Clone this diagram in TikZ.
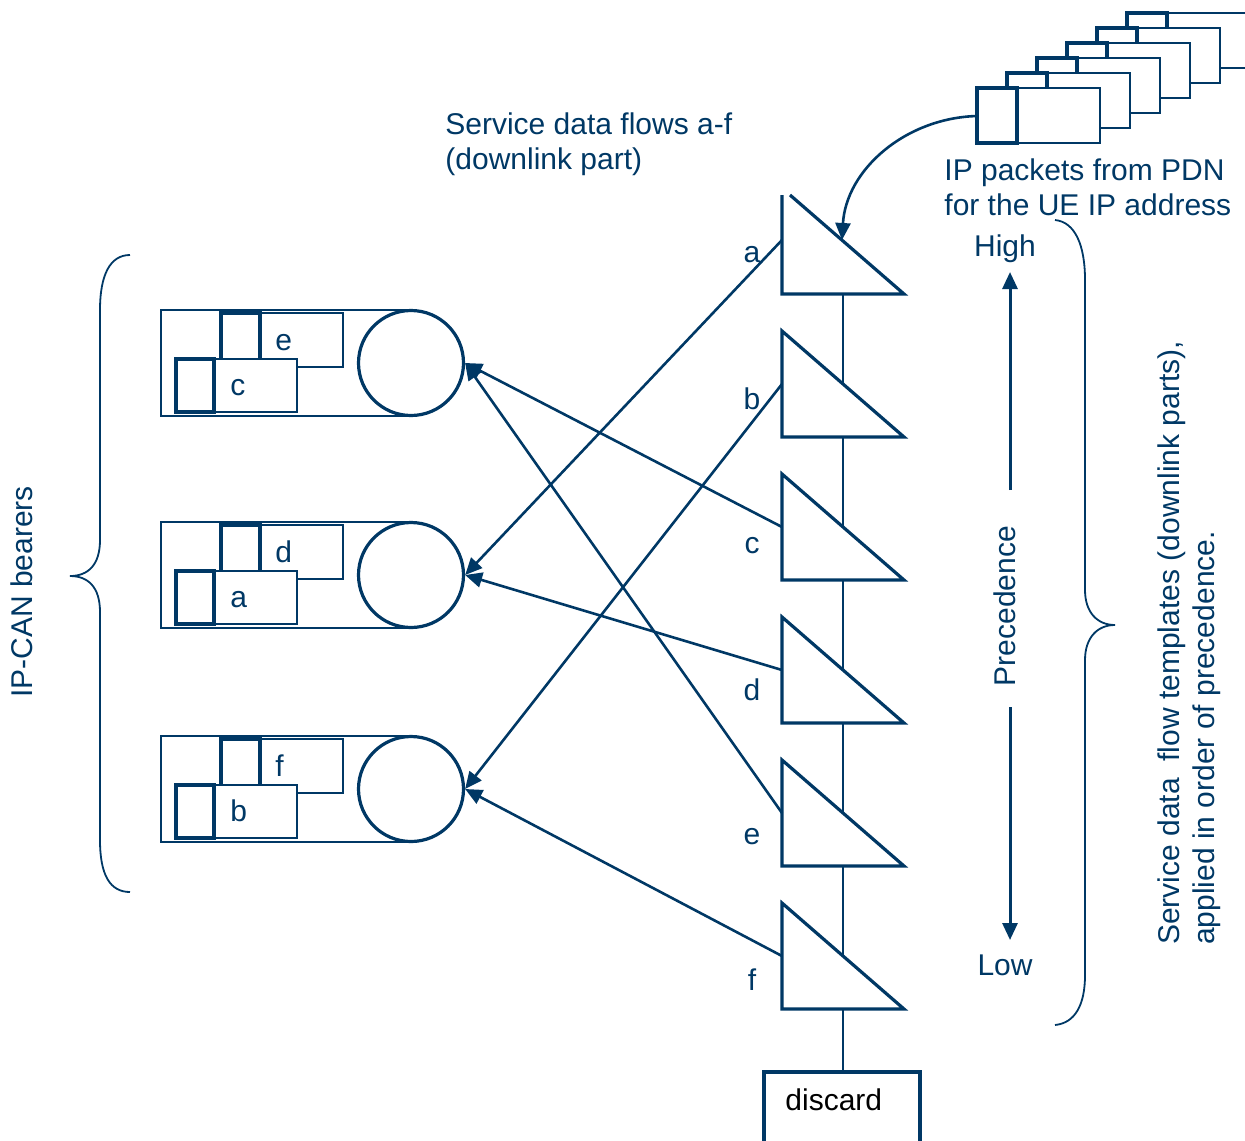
\documentclass[tikz,border=0pt]{standalone}
\usepackage{fontspec}
\setmainfont{Liberation Sans}
\usetikzlibrary{arrows.meta}
\definecolor{navy}{RGB}{0,56,101}
\begin{document}
\begin{tikzpicture}[x=0.5pt,y=-0.5pt,
  every node/.style={font=\fontsize{15}{17.5}\selectfont, text=navy, inner sep=0pt},
  tri/.style={draw=navy, line width=1.6pt, fill=white, line join=miter},
  conn/.style={draw=navy, line width=1.3pt, -{Triangle[length=8.5pt,width=7.5pt]}},
  pkthin/.style={draw=navy, line width=0.8pt, fill=white},
  pkthick/.style={draw=navy, line width=1.7pt, fill=white},
  bearer/.style={draw=navy, line width=0.8pt},
  ball/.style={circle, draw=navy, line width=1.6pt, fill=white, minimum size=52.5pt},
  brace/.style={draw=navy, line width=0.9pt},
  prec/.style={draw=navy, line width=1.5pt, -{Triangle[length=8.5pt,width=7.5pt]}}]
\useasboundingbox (0,0) rectangle (1245,1140);

% vertical chain line and discard
\coordinate (vtop) at (843,294);
\draw[navy, line width=0.8pt] (vtop) -- (843,1072) coordinate (dtop);
\draw[navy, line width=1.6pt] (764,1180) -- (764,1072) -- (920,1072) -- (920,1180);
\node[anchor=base west, text=black] (discard) at (785,1110) {discard};

% triangles (filters)
\draw[tri] (790,195) -- (904,294) -- (782,294) -- (782,195);
\coordinate (sa) at (782,240);
\node[anchor=base] (la) at (752,262) {a};
\foreach \t/\n/\b in {331/b/409, 474/c/553, 617/d/700, 760/e/844, 903/f/990} {
  \draw[tri] (782,\t) -- (782,\t+106) -- (904,\t+106) -- cycle;
  \coordinate (s\n) at (782,\t+53);
  \node[anchor=base] (l\n) at (752,\b) {\n};
}

% bearers
\foreach \T/\u/\l/\i in {310/e/c/1, 522/d/a/2, 736/f/b/3} {
  \draw[bearer] (161,\T) rectangle (410,\T+106);
  \draw[pkthin] (260,\T+3) rectangle (343,\T+57);
  \draw[pkthick] (221,\T+3) rectangle (260,\T+57);
  \draw[pkthin] (214,\T+49) rectangle (297,\T+102);
  \draw[pkthick] (176,\T+49) rectangle (214,\T+102);
  \node[anchor=base west] (pu\i) at (275,\T+40) {\u};
  \node[anchor=base west] (pl\i) at (230,\T+85) {\l};
  \node[ball] (c\i) at (411,\T+53) {};
}

% connectors from filters to bearers
\draw[conn] (sa) -- (c2.east);
\draw[conn] (sb) -- (c3.east);
\draw[conn] (sc) -- (c1.east);
\draw[conn] (sd) -- (c2.east);
\draw[conn] (se) -- (c1.east);
\draw[conn] (sf) -- (c3.east);

% packet stack
\foreach \k in {5,4,...,0} {
  \draw[pkthin] (1017+30*\k,88-15*\k) rectangle (1100+30*\k,143-15*\k);
  \draw[pkthick] (977+30*\k,88-15*\k) rectangle (1017+30*\k,143-15*\k);
}
\coordinate (pk) at (977,116);
\coordinate (tin) at (842,240);
\draw[conn] (pk) .. controls (905,118) and (846,170) .. (tin);

% texts
\node[anchor=north west, align=left] (sdf) at (445,112) {Service data flows a-f\\(downlink part)};
\node[anchor=north west, align=left] (ipp) at (944,158) {IP packets from PDN\\for the UE IP address};
\node[anchor=base] (high) at (1005,256) {High};
\node[anchor=base] (low) at (1005,975) {Low};
\node[rotate=90] (precn) at (1005,606) {Precedence};
\coordinate (pu1) at (1010,490);
\coordinate (pu2) at (1010,272);
\coordinate (pd1) at (1010,707);
\coordinate (pd2) at (1010,940);
\draw[prec] (pu1) -- (pu2);
\draw[prec] (pd1) -- (pd2);
\node[rotate=90] (ipcan) at (22,592) {IP-CAN bearers};
\node[rotate=90, align=left] (sft) at (1189,643) {Service data\ \ flow templates (downlink parts),\\applied in order of precedence.};

% braces
\draw[brace] (130,255) .. controls (110,255) and (100,275) .. (100,310) -- (100,540)
  .. controls (100,565) and (88,576) .. (70,576)
  .. controls (88,576) and (100,587) .. (100,612) -- (100,840)
  .. controls (100,875) and (110,892) .. (130,892);
\draw[brace] (1055,220) .. controls (1075,222) and (1085,245) .. (1085,280) -- (1085,590)
  .. controls (1085,612) and (1097,625) .. (1115,625)
  .. controls (1097,625) and (1085,638) .. (1085,660) -- (1085,975)
  .. controls (1085,1005) and (1075,1023) .. (1055,1025);
\end{tikzpicture}
\end{document}
